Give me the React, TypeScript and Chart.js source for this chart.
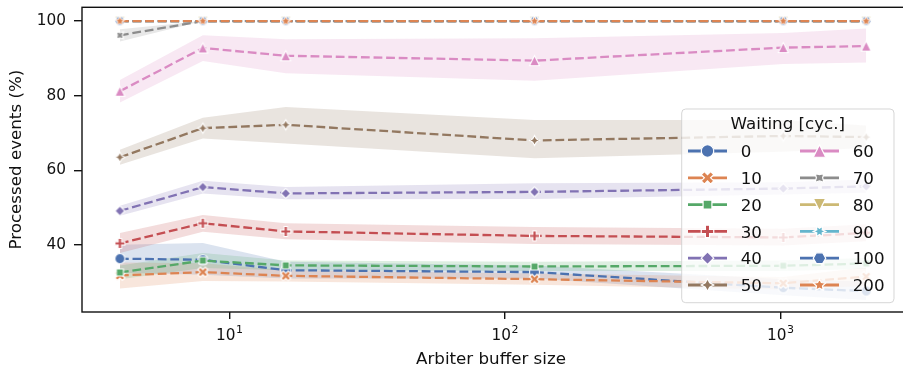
import React, { useEffect, useRef } from 'react';
import { Chart, registerables } from 'chart.js';

Chart.register(...registerables);

// ---------------- data ----------------
const bufferSizes = [4, 8, 16, 128, 1024, 2048];
const waitingLabels = ['0', '10', '20', '30', '40', '50', '60', '70', '80', '90', '100', '200'];
const xTickValues = [10, 100, 1000];
const yTickValues = [40, 60, 80, 100];
const xTitle = 'Arbiter buffer size';
const yTitle = 'Processed events (%)';
const legendTitle = 'Waiting [cyc.]';

const mean0 = [36.3, 36.0, 33.2, 32.7, 28.5, 27.6];
const lo0 = [32.5, 32.0, 31.0, 31.0, 26.5, 25.2];
const hi0 = [40.0, 40.5, 35.5, 34.5, 30.8, 30.2];

const mean10 = [31.8, 32.7, 31.7, 30.8, 29.7, 31.5];
const lo10 = [28.3, 30.3, 30.2, 29.3, 28.0, 29.0];
const hi10 = [35.3, 35.1, 33.2, 32.3, 31.4, 34.0];

const mean20 = [32.6, 35.8, 34.5, 34.2, 34.4, 35.0];
const lo20 = [30.8, 33.8, 33.2, 33.0, 33.0, 33.5];
const hi20 = [34.5, 37.8, 35.8, 35.5, 35.8, 36.5];

const mean30 = [40.4, 45.8, 43.6, 42.4, 42.0, 43.2];
const lo30 = [37.8, 43.5, 41.5, 40.2, 39.8, 41.0];
const hi30 = [43.2, 48.0, 45.8, 44.8, 44.3, 45.5];

const mean40 = [49.1, 55.5, 53.8, 54.2, 55.1, 55.7];
const lo40 = [47.8, 53.8, 52.2, 52.3, 53.5, 54.0];
const hi40 = [50.5, 57.2, 55.5, 56.5, 56.8, 57.5];

const mean50 = [63.5, 71.3, 72.2, 68.0, 69.2, 68.9];
const lo50 = [61.5, 68.5, 67.2, 63.2, 65.0, 66.0];
const hi50 = [65.5, 74.1, 77.0, 73.5, 73.5, 72.0];

const mean60 = [81.2, 92.8, 90.7, 89.4, 92.9, 93.3];
const lo60 = [78.2, 89.3, 86.0, 84.0, 88.5, 88.9];
const hi60 = [84.2, 96.2, 95.1, 95.4, 96.8, 98.0];

const mean70 = [96.2, 100, 100, 100, 100, 100];
const lo70 = [94.5, 100, 100, 100, 100, 100];
const hi70 = [97.8, 100, 100, 100, 100, 100];

const mean80 = [100, 100, 100, 100, 100, 100];
const mean90 = [100, 100, 100, 100, 100, 100];
const mean100 = [100, 100, 100, 100, 100, 100];
const mean200 = [100, 100, 100, 100, 100, 100];

const seriesMeans = [mean0, mean10, mean20, mean30, mean40, mean50, mean60, mean70, mean80, mean90, mean100, mean200];
const seriesLo = [lo0, lo10, lo20, lo30, lo40, lo50, lo60, lo70, mean80, mean90, mean100, mean200];
const seriesHi = [hi0, hi10, hi20, hi30, hi40, hi50, hi60, hi70, mean80, mean90, mean100, mean200];

const colors = ['#4C72B0', '#DD8452', '#55A868', '#C44E52', '#8172B3', '#937860', '#DA8BC3', '#8C8C8C', '#CCB974', '#64B5CD', '#4C72B0', '#DD8452'];
const markerShapes = ['circle', 'xfilled', 'square', 'plusfilled', 'diamond', 'star4', 'triUp', 'star4rot', 'triDown', 'star6', 'hexagon', 'star5'];

// ---------------- styles ----------------
const FONT = "'DejaVu Sans', sans-serif";
const TEXT = '#111111';

function hexToRgba(hex: string, a: number) {
  const n = parseInt(hex.slice(1), 16);
  return `rgba(${(n >> 16) & 255},${(n >> 8) & 255},${n & 255},${a})`;
}

function shapePath(ctx: CanvasRenderingContext2D, shape: string, r: number) {
  ctx.beginPath();
  const poly = (pts: number[][], s: number) => {
    pts.forEach(([x, y], i) => (i ? ctx.lineTo(x * s, y * s) : ctx.moveTo(x * s, y * s)));
    ctx.closePath();
  };
  const regular = (n: number, rotDeg: number) => {
    const pts: number[][] = [];
    for (let k = 0; k < n; k++) {
      const t = (2 * Math.PI * k) / n + Math.PI / 2 + (rotDeg * Math.PI) / 180;
      pts.push([Math.cos(t), -Math.sin(t)]);
    }
    poly(pts, r);
  };
  const star = (n: number, rotDeg: number, inner = 0.5) => {
    const pts: number[][] = [];
    for (let k = 0; k < 2 * n; k++) {
      const t = (Math.PI * k) / n + Math.PI / 2 + (rotDeg * Math.PI) / 180;
      const rr = k % 2 === 0 ? 1 : inner;
      pts.push([rr * Math.cos(t), -rr * Math.sin(t)]);
    }
    poly(pts, r);
  };
  switch (shape) {
    case 'circle':
      ctx.arc(0, 0, r, 0, Math.PI * 2);
      ctx.closePath();
      break;
    case 'xfilled':
      poly([[-1, -2], [0, -1], [1, -2], [2, -1], [1, 0], [2, 1], [1, 2], [0, 1], [-1, 2], [-2, 1], [-1, 0], [-2, -1]], r / 2);
      break;
    case 'plusfilled':
      poly([[-1, -3], [1, -3], [1, -1], [3, -1], [3, 1], [1, 1], [1, 3], [-1, 3], [-1, 1], [-3, 1], [-3, -1], [-1, -1]], r / 3);
      break;
    case 'square':
      regular(4, 45);
      break;
    case 'diamond':
      regular(4, 0);
      break;
    case 'star4':
      star(4, 0);
      break;
    case 'star4rot':
      star(4, 45);
      break;
    case 'triUp':
      poly([[0, -1], [-1, 1], [1, 1]], r);
      break;
    case 'triDown':
      poly([[0, 1], [-1, -1], [1, -1]], r);
      break;
    case 'star6':
      star(6, 30);
      break;
    case 'hexagon':
      regular(6, 30);
      break;
    case 'star5':
      star(5, 0);
      break;
  }
}

function drawMarker(ctx: CanvasRenderingContext2D, shape: string, color: string, x: number, y: number, size: number, edge: number) {
  ctx.save();
  ctx.translate(x, y);
  shapePath(ctx, shape, size / 2);
  ctx.fillStyle = color;
  ctx.fill();
  ctx.lineWidth = edge;
  ctx.strokeStyle = '#ffffff';
  ctx.lineJoin = 'miter';
  ctx.stroke();
  ctx.restore();
}

function makeMarker(shape: string, color: string, size: number, edge: number) {
  const dim = Math.ceil(size + edge * 2 + 4);
  const c = document.createElement('canvas');
  c.width = dim;
  c.height = dim;
  const ctx = c.getContext('2d')!;
  drawMarker(ctx, shape, color, dim / 2, dim / 2, size, edge);
  return c;
}

const decorPlugin = {
  id: 'decor',
  afterDatasetsDraw(chart: any) {
    const { ctx, chartArea: a } = chart;
    ctx.save();
    ctx.strokeStyle = TEXT;
    ctx.lineWidth = 1.4;
    ctx.strokeRect(a.left, a.top, a.right - a.left, a.bottom - a.top);
    ctx.restore();
  },
  afterDraw(chart: any) {
    const { ctx, chartArea: a, scales } = chart;
    ctx.save();
    ctx.fillStyle = TEXT;
    ctx.textBaseline = 'alphabetic';
    // x tick labels (10^n)
    xTickValues.forEach((v) => {
      const px = scales.x.getPixelForValue(v);
      const exp = String(Math.round(Math.log10(v)));
      ctx.font = `15.3px ${FONT}`;
      const w1 = ctx.measureText('10').width;
      ctx.font = `11px ${FONT}`;
      const w2 = ctx.measureText(exp).width;
      const start = px - (w1 + w2 + 0.5) / 2;
      ctx.textAlign = 'left';
      ctx.font = `15.3px ${FONT}`;
      ctx.fillText('10', start, 340);
      ctx.font = `11px ${FONT}`;
      ctx.fillText(exp, start + w1 + 0.5, 333);
    });
    // axis titles
    ctx.font = `16.7px ${FONT}`;
    ctx.textAlign = 'center';
    ctx.fillText(xTitle, (a.left + a.right) / 2 - 2, 364);
    ctx.save();
    ctx.translate(21, (a.top + a.bottom) / 2);
    ctx.rotate(-Math.PI / 2);
    ctx.fillText(yTitle, 0, 0);
    ctx.restore();

    // legend
    const L = 681.7, T = 109, R = 894, B = 302.7, rad = 4;
    ctx.beginPath();
    ctx.moveTo(L + rad, T);
    ctx.lineTo(R - rad, T);
    ctx.quadraticCurveTo(R, T, R, T + rad);
    ctx.lineTo(R, B - rad);
    ctx.quadraticCurveTo(R, B, R - rad, B);
    ctx.lineTo(L + rad, B);
    ctx.quadraticCurveTo(L, B, L, B - rad);
    ctx.lineTo(L, T + rad);
    ctx.quadraticCurveTo(L, T, L + rad, T);
    ctx.closePath();
    ctx.fillStyle = 'rgba(255,255,255,0.8)';
    ctx.fill();
    ctx.strokeStyle = 'rgba(204,204,204,0.8)';
    ctx.lineWidth = 1;
    ctx.stroke();

    ctx.fillStyle = TEXT;
    ctx.font = `16.7px ${FONT}`;
    ctx.textAlign = 'center';
    ctx.fillText(legendTitle, (L + R) / 2, 128.5);

    const colLineX = [[688, 727], [800, 839]];
    const colTextX = [740.7, 852.7];
    waitingLabels.forEach((lab, i) => {
      const col = i < 6 ? 0 : 1;
      const row = i % 6;
      const y = 151 + row * 26.8;
      const [x1, x2] = colLineX[col];
      ctx.beginPath();
      ctx.moveTo(x1, y);
      ctx.lineTo(x2, y);
      ctx.strokeStyle = colors[i];
      ctx.lineWidth = 2.8;
      ctx.stroke();
      drawMarker(ctx, markerShapes[i], colors[i], (x1 + x2) / 2, y, 12.5, 1.2);
      ctx.fillStyle = TEXT;
      ctx.font = `16.7px ${FONT}`;
      ctx.textAlign = 'left';
      ctx.fillText(lab, colTextX[col], y + 6.1);
    });
    ctx.restore();
  },
};

export default function App() {
  const ref = useRef<HTMLCanvasElement>(null);

  useEffect(() => {
    if (!ref.current) return;
    const n = waitingLabels.length;
    const datasets: any[] = [];
    const bandSets: any[] = [];
    const lineSets: any[] = [];
    for (let s = n - 1; s >= 0; s--) {
      const toPts = (arr: number[]) => arr.map((y, i) => ({ x: bufferSizes[i], y }));
      bandSets.push({ s, kind: 'hi', data: toPts(seriesHi[s]) });
      bandSets.push({ s, kind: 'lo', data: toPts(seriesLo[s]) });
      lineSets.push({ s, data: toPts(seriesMeans[s]) });
    }
    lineSets.forEach((l) => {
      datasets.push({
        type: 'line',
        data: l.data,
        borderColor: colors[l.s],
        backgroundColor: colors[l.s],
        borderWidth: 2.3,
        borderDash: [8.8, 3.8],
        pointStyle: makeMarker(markerShapes[l.s], colors[l.s], 10, 1.1),
        pointRadius: 5,
        fill: false,
        tension: 0,
        order: 1,
      });
    });
    bandSets.forEach((b) => {
      const idx = datasets.length;
      datasets.push({
        type: 'line',
        data: b.data,
        borderColor: 'rgba(0,0,0,0)',
        borderWidth: 0,
        pointRadius: 0,
        backgroundColor: hexToRgba(colors[b.s], 0.2),
        fill: b.kind === 'hi' ? idx + 1 : false,
        tension: 0,
        order: 2,
      });
    });

    const chart = new Chart(ref.current, {
      type: 'line',
      data: { datasets },
      options: {
        animation: false,
        responsive: false,
        devicePixelRatio: 1,
        events: [],
        layout: { padding: { left: 0, top: 6, right: 16, bottom: 0 } },
        plugins: { legend: { display: false }, tooltip: { enabled: false } },
        scales: {
          x: {
            type: 'logarithmic',
            bounds: 'data',
            min: 2.913,
            max: 2810,
            afterBuildTicks: (axis: any) => {
              axis.ticks = xTickValues.map((v) => ({ value: v, major: true }));
            },
            afterFit: (axis: any) => {
              axis.height = 60;
              axis.paddingLeft = 0;
              axis.paddingRight = 0;
            },
            ticks: { autoSkip: false, maxRotation: 0, callback: () => '' },
            grid: { drawOnChartArea: false, drawTicks: true, tickLength: 7, color: TEXT, lineWidth: 1.4 },
            border: { display: false },
          },
          y: {
            type: 'linear',
            bounds: 'data',
            min: 22,
            max: 103.7,
            afterBuildTicks: (axis: any) => {
              axis.ticks = yTickValues.map((v) => ({ value: v }));
            },
            afterFit: (axis: any) => {
              axis.width = 82;
              axis.paddingTop = 0;
              axis.paddingBottom = 0;
            },
            ticks: {
              autoSkip: false,
              padding: 8,
              color: TEXT,
              font: { family: FONT, size: 15.3 },
              callback: (v: any) => String(v),
            },
            grid: { drawOnChartArea: false, drawTicks: true, tickLength: 8, color: TEXT, lineWidth: 1.4 },
            border: { display: false },
          },
        },
      },
      plugins: [decorPlugin],
    } as any);
    return () => chart.destroy();
  }, []);

  return (
    <div style={{ position: 'absolute', left: 0, top: 0, width: 903, height: 372, overflow: 'hidden', background: '#fff' }}>
      <canvas ref={ref} width={920} height={372} style={{ display: 'block', width: 920, height: 372 }} />
    </div>
  );
}
